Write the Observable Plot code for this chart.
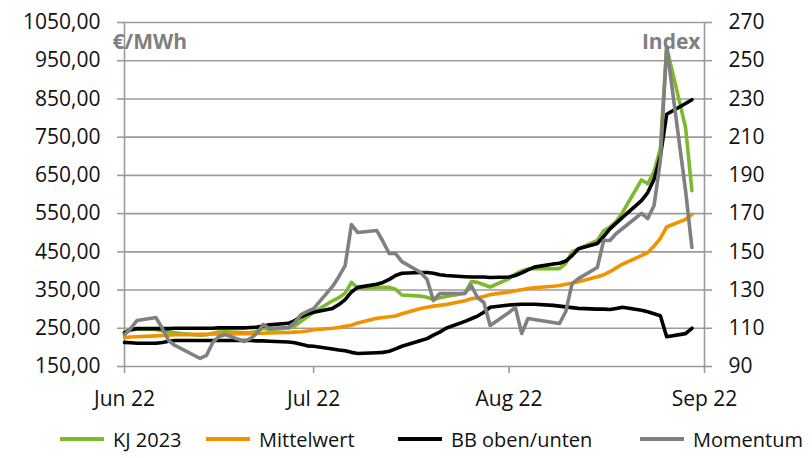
<!DOCTYPE html>
<html>
<head>
<meta charset="utf-8">
<script src="https://cdn.jsdelivr.net/npm/d3@7"></script>
<script src="https://cdn.jsdelivr.net/npm/@observablehq/plot@0.6"></script>
<style>
  html, body { margin: 0; padding: 0; background: #fff; }
  #wrap { width: 812px; height: 458px; position: relative; font-family: "Open Sans", sans-serif; }
  #legend { position: absolute; left: 0; top: 420px; width: 812px; height: 38px; }
  .item { position: absolute; top: 0; height: 38px; display: flex; align-items: center; font-size: 20px; color: #111; }
  .sw { width: 44px; height: 4px; margin-right: 9px; }
</style>
</head>
<body>
<div id="wrap"><div id="chart"></div><div id="legend"></div></div>
<script>
const dates = [
  "2022-06-01","2022-06-02","2022-06-03","2022-06-06","2022-06-07","2022-06-08","2022-06-09","2022-06-10",
  "2022-06-13","2022-06-14","2022-06-15","2022-06-16","2022-06-17","2022-06-20","2022-06-21","2022-06-22",
  "2022-06-23","2022-06-24","2022-06-27","2022-06-28","2022-06-29","2022-06-30","2022-07-01","2022-07-04",
  "2022-07-05","2022-07-06","2022-07-07","2022-07-08","2022-07-11","2022-07-12","2022-07-13","2022-07-14",
  "2022-07-15","2022-07-18","2022-07-19","2022-07-20","2022-07-21","2022-07-22","2022-07-25","2022-07-26",
  "2022-07-27","2022-07-28","2022-07-29","2022-08-01","2022-08-02","2022-08-03","2022-08-04","2022-08-05",
  "2022-08-08","2022-08-09","2022-08-10","2022-08-11","2022-08-12","2022-08-15","2022-08-16","2022-08-17",
  "2022-08-18","2022-08-19","2022-08-22","2022-08-23","2022-08-24","2022-08-25","2022-08-26","2022-08-29",
  "2022-08-30"
];
const kj2023 = [
  240,245,248,247,243,240,238,236,232,233,237,240,241,238,239,242,
  250,247,250,256,268,280,292,322,330,342,370,355,357,357,357,352,
  337,334,331,325,330,333,342,372,370,364,358,380,392,400,405,406,
  406,406,420,450,458,480,505,515,530,553,638,628,660,720,985,775,
  610
];
const mittelwert = [
  226,227,228,230,231,232,233,233,234,234,235,235,235,236,236,237,
  237,238,239,240,241,243,246,250,252,255,258,264,276,278,280,282,
  288,302,305,308,310,312,322,327,330,333,338,345,348,351,354,356,
  360,362,365,368,372,385,390,398,408,418,440,448,465,485,515,535,
  548
];
const bbOben = [
  238,247,249,249,249,249,250,250,250,250,250,251,251,251,252,253,
  256,259,263,270,280,287,292,302,312,325,345,357,365,370,378,388,
  394,396,396,394,390,388,385,384,384,384,383,384,388,395,403,410,
  418,420,426,440,458,472,490,510,525,540,584,605,640,700,810,838,
  848
];
const bbUnten = [
  213,212,211,211,213,216,218,218,218,218,218,218,218,218,218,217,
  217,216,214,212,208,204,203,196,193,191,187,184,186,187,190,196,
  203,218,223,232,240,250,268,275,282,292,305,311,312,313,313,313,
  310,308,306,304,302,300,300,299,302,305,297,293,288,283,228,236,
  250
];
const momentum = [
  106.7,109.9,114.1,115.6,109.9,103.6,101.0,99.4,94.2,95.8,102.6,105.7,106.7,103.1,104.7,107.3,
  112.0,109.9,110.4,113.0,117.2,118.8,120.3,131.9,137.0,142.8,164.3,160.1,161.2,155.4,149.1,149.1,
  144.9,139.2,135.5,124.5,128.2,128.2,128.2,132.4,126.1,123.5,111.5,118.3,120.9,107.3,115.1,114.6,
  113.0,112.5,118.8,133.4,136.0,141.8,155.9,155.9,159.6,162.2,170.1,167.4,174.2,197.8,257.4,182.0,
  152.3
];
const leftTicks = [150,250,350,450,550,650,750,850,950,1050];
const rightTicks = [90,110,130,150,170,190,210,230,250,270];
const monthTicks = ["2022-06-01","2022-07-01","2022-08-01","2022-09-01"];
const monthLabels = ["Jun 22","Jul 22","Aug 22","Sep 22"];
const seriesNames = ["KJ 2023","Mittelwert","BB oben/unten","Momentum"];
const seriesColors = ["#7DBA2B","#F39200","#000000","#808080"];

// right axis (Index 90..270) mapped onto left scale (150..1050)
const toLeft = v => 150 + (v - 90) * 5;
const toRight = v => Math.round((v - 150) / 5 + 90);

const rows = dates.map((d, i) => ({
  date: new Date(d + "T00:00:00Z"),
  kj: kj2023[i], mw: mittelwert[i], bo: bbOben[i], bu: bbUnten[i], mom: toLeft(momentum[i])
}));
const monthDates = monthTicks.map(d => new Date(d + "T00:00:00Z"));
const fmtLeft = v => v.toFixed(2).replace(".", ",");
const fmtMonth = d => monthLabels[monthDates.findIndex(m => +m === +d)];

const gridColor = "#9b9b9b";
const lw = 3.6;

const chart = Plot.plot({
  width: 812,
  height: 420,
  marginLeft: 124,
  marginRight: 108,
  marginTop: 22,
  marginBottom: 54,
  style: { fontFamily: "Open Sans, sans-serif", fontSize: "21px", color: "#111", background: "#fff" },
  x: { type: "utc", domain: [monthDates[0], monthDates[3]] },
  y: { domain: [150, 1050] },
  marks: [
    Plot.ruleY(leftTicks, { stroke: gridColor, strokeWidth: 1.6 }),
    Plot.ruleX([monthDates[0], monthDates[3]], { stroke: gridColor, strokeWidth: 1.6 }),
    Plot.axisY({ ticks: leftTicks, tickFormat: fmtLeft, tickSize: 7, tickPadding: 17, stroke: gridColor, strokeWidth: 1.6, label: null, fontSize: 21 }),
    Plot.axisY({ anchor: "right", ticks: leftTicks, tickFormat: toRight, tickSize: 7, tickPadding: 17, stroke: gridColor, strokeWidth: 1.6, label: null, fontSize: 21 }),
    Plot.axisX({ ticks: monthDates, tickFormat: fmtMonth, tickSize: 7, tickPadding: 18, stroke: gridColor, strokeWidth: 1.6, label: null, fontSize: 21 }),
    Plot.line(rows, { x: "date", y: "kj", stroke: seriesColors[0], strokeWidth: lw }),
    Plot.line(rows, { x: "date", y: "mw", stroke: seriesColors[1], strokeWidth: lw }),
    Plot.line(rows, { x: "date", y: "bo", stroke: seriesColors[2], strokeWidth: lw }),
    Plot.line(rows, { x: "date", y: "bu", stroke: seriesColors[2], strokeWidth: lw }),
    Plot.line(rows, { x: "date", y: "mom", stroke: seriesColors[3], strokeWidth: lw }),
    Plot.text(["€/MWh"], { frameAnchor: "top-left", dx: -12, dy: 12, textAnchor: "start", fill: "#808080", fontWeight: "bold", fontSize: 21 }),
    Plot.text(["Index"], { frameAnchor: "top-right", dx: -4, dy: 12, textAnchor: "end", fill: "#808080", fontWeight: "bold", fontSize: 21 })
  ]
});
document.getElementById("chart").appendChild(chart);

const legendLeft = [60, 206, 398, 640];
const legend = document.getElementById("legend");
seriesNames.forEach((name, i) => {
  const it = document.createElement("div");
  it.className = "item";
  it.style.left = legendLeft[i] + "px";
  it.innerHTML = `<span class="sw" style="background:${seriesColors[i]}"></span><span>${name}</span>`;
  legend.appendChild(it);
});
</script>
</body>
</html>
